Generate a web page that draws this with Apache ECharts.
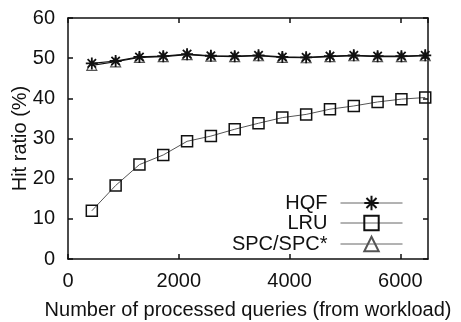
<!DOCTYPE html>
<html>
<head>
<meta charset="utf-8">
<script src="https://cdn.jsdelivr.net/npm/echarts@6/dist/echarts.min.js"></script>
<style>
  html, body { margin: 0; padding: 0; background: #fff; }
  #main { width: 461px; height: 322px; }
</style>
</head>
<body>
<div id="main"></div>
<script>
// processed queries (x) and hit ratios (%)
var queries = [430, 860, 1290, 1720, 2150, 2580, 3010, 3440, 3870, 4300, 4730, 5160, 5590, 6020, 6450];
var hqf = [48.7, 49.3, 50.3, 50.5, 51.0, 50.6, 50.5, 50.7, 50.3, 50.2, 50.5, 50.7, 50.5, 50.5, 50.7];
var lru = [12.0, 18.3, 23.5, 25.9, 29.3, 30.6, 32.3, 33.8, 35.2, 36.0, 37.3, 38.1, 39.1, 39.8, 40.2];
var spc = [48.2, 49.1, 50.2, 50.4, 50.9, 50.5, 50.4, 50.6, 50.2, 50.1, 50.4, 50.6, 50.4, 50.4, 50.6];
var xTicks = [0, 2000, 4000, 6000];
var yTicks = [0, 10, 20, 30, 40, 50, 60];

var font = 'Liberation Sans, Arial, sans-serif';
var star = 'path://M0,-6L0,6M-6,0L6,0M-4.2,-4.2L4.2,4.2M-4.2,4.2L4.2,-4.2';

function pairs(ys) {
  return queries.map(function (q, i) { return [q, ys[i]]; });
}

var myChart = echarts.init(document.getElementById('main'));

var axisBase = {
  axisLine: { show: true, onZero: false, lineStyle: { color: '#111', width: 1.5 } },
  axisTick: { show: true, inside: true, length: 5, lineStyle: { color: '#111', width: 1.5 } },
  splitLine: { show: false }
};

function legendFor(name, top) {
  return {
    data: [name],
    right: 58,
    top: top,
    itemWidth: 62,
    itemHeight: 18,
    align: 'right',
    padding: 0,
    lineStyle: { color: '#666', width: 1 },
    textStyle: { fontFamily: font, fontSize: 20, color: '#111', padding: [0, 8, 0, 0] }
  };
}

myChart.setOption({
  animation: false,
  grid: { left: 68, right: 33, top: 18, bottom: 63, outerBoundsMode: 'none', containLabel: false },
  legend: [
    legendFor('HQF', 193),
    legendFor('LRU', 213),
    legendFor('SPC/SPC*', 234)
  ],
  xAxis: [
    Object.assign({}, axisBase, {
      type: 'value', min: 0, max: 6500, interval: 2000, position: 'bottom',
      name: 'Number of processed queries (from workload)',
      nameLocation: 'middle', nameGap: 41,
      nameTextStyle: { fontFamily: font, fontSize: 20, color: '#111' },
      axisLabel: {
        fontFamily: font, fontSize: 20, color: '#111', margin: 12, showMaxLabel: false,
        formatter: function (v) { return xTicks.indexOf(v) >= 0 ? String(v) : ''; }
      }
    }),
    Object.assign({}, axisBase, {
      type: 'value', min: 0, max: 6500, interval: 2000, position: 'top',
      axisLabel: { show: false }
    })
  ],
  yAxis: [
    Object.assign({}, axisBase, {
      type: 'value', min: 0, max: 60, interval: 10, position: 'left',
      name: 'Hit ratio (%)', nameLocation: 'middle', nameGap: 38, nameMoveOverlap: false,
      nameTextStyle: { fontFamily: font, fontSize: 20, color: '#111' },
      axisLabel: {
        fontFamily: font, fontSize: 20, color: '#111', margin: 13,
        formatter: function (v) { return yTicks.indexOf(v) >= 0 ? String(v) : ''; }
      }
    }),
    Object.assign({}, axisBase, {
      type: 'value', min: 0, max: 60, interval: 10, position: 'right',
      axisLabel: { show: false }
    })
  ],
  series: [
    {
      name: 'SPC/SPC*', type: 'line', data: pairs(spc),
      symbol: 'triangle', symbolSize: 10,
      lineStyle: { color: '#111', width: 1.2 },
      itemStyle: { color: 'transparent', borderColor: '#555', borderWidth: 1.2 }
    },
    {
      name: 'HQF', type: 'line', data: pairs(hqf),
      symbol: star, symbolSize: 12,
      lineStyle: { color: '#111', width: 1.2 },
      itemStyle: { color: 'transparent', borderColor: '#111', borderWidth: 1.8 }
    },
    {
      name: 'LRU', type: 'line', data: pairs(lru),
      symbol: 'rect', symbolSize: 11,
      lineStyle: { color: '#555', width: 1 },
      itemStyle: { color: 'transparent', borderColor: '#111', borderWidth: 1.5 }
    }
  ]
});
</script>
</body>
</html>
